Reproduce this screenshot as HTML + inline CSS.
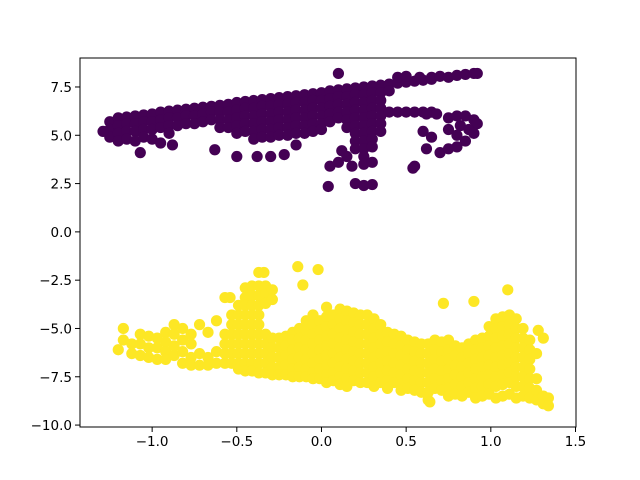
<!DOCTYPE html>
<html><head><meta charset="utf-8"><style>html,body{margin:0;padding:0;background:#fff}svg{display:block}</style></head>
<body>
<svg id="chart" width="640" height="480" xmlns="http://www.w3.org/2000/svg">
<rect width="640" height="480" fill="#fff"/>
<g id="points"></g>
<g id="axes"></g>
</svg>
<script>
const xTicks = [-1.0, -0.5, 0.0, 0.5, 1.0, 1.5];
const xTickLabels = ["\u22121.0", "\u22120.5", "0.0", "0.5", "1.0", "1.5"];
const yTicks = [7.5, 5.0, 2.5, 0.0, -2.5, -5.0, -7.5, -10.0];
const yTickLabels = ["7.5", "5.0", "2.5", "0.0", "\u22122.5", "\u22125.0", "\u22127.5", "\u221210.0"];
const purpleCols = [
[-1.25,[5.7,5.3,4.9]],[-1.2,[5.9,5.5,5.1,4.7]],[-1.15,[5.95,5.6,5.2,4.8]],[-1.1,[6.0,5.6,5.2,4.7]],
[-1.05,[6.05,5.7,5.3,4.9]],[-1.0,[6.1,5.7,5.3,4.8]],[-0.95,[6.2,5.8,5.4,4.6]],[-0.9,[6.25,5.9,5.5,5.1]],
[-0.85,[6.3,5.9,5.5]],[-0.8,[6.35,6.0,5.6]],[-0.75,[6.4,6.0,5.6]],[-0.7,[6.45,6.1,5.7]],[-0.65,[6.5,6.2,5.8]],
[-0.6,[6.55,6.2,5.8,5.4]],[-0.55,[6.6,6.2,5.8,5.4]],[-0.5,[6.7,6.3,5.9,5.5,5.1]],[-0.45,[6.75,6.4,6.0,5.6,5.2]],
[-0.4,[6.8,6.4,6.0,5.6,5.2,4.8]],[-0.35,[6.85,6.5,6.1,5.7,5.3,4.9]],[-0.3,[6.9,6.5,6.1,5.7,5.3,4.9]],
[-0.25,[6.95,6.6,6.2,5.8,5.4,5.0]],[-0.2,[7.0,6.6,6.2,5.8,5.4,5.0]],[-0.15,[7.05,6.7,6.3,5.9,5.5,5.1]],
[-0.1,[7.1,6.7,6.3,5.9,5.5,5.1]],[-0.05,[7.15,6.8,6.4,6.0,5.6,5.2]],[0,[7.2,6.8,6.4,6.0,5.6,5.3]],
[0.05,[7.3,6.9,6.5,6.1,5.7]],[0.1,[7.35,7.0,6.6,6.2,5.9]],[0.15,[7.4,7.0,6.6,6.2,5.8,5.4]],
[0.2,[7.45,7.1,6.7,6.3,5.9,5.5,5.1,4.7,4.3]],[0.25,[7.5,7.1,6.7,6.3,5.9,5.5,5.1,4.7,4.3,3.9]],
[0.3,[7.55,7.2,6.8,6.4,6.0,5.6,5.2,4.8,4.4]],[0.35,[7.6,7.2,6.8,6.4,6.0,5.6,5.2]],
[0.4,[7.65,7.3,6.2]],[0.45,[7.7,6.2]],[0.5,[7.75,6.2]],[0.55,[7.8,6.2]],[0.6,[7.85,6.2]],[0.65,[7.9,6.2]]
];
const purpleExtraX = [0.1,0.45,0.5,0.58,0.65,0.7,0.75,0.8,0.85,0.9,0.92,0.62,0.68,0.75,0.8,0.85,0.9,0.92,0.6,0.65,0.75,0.8,0.82,0.87,0.9,0.85,0.62,0.7,0.75,0.8,0.55,-1.29,-1.07,-0.88,-0.63,-0.5,-0.38,-0.3,-0.22,-0.15,0.05,0.1,0.15,0.12,0.18,0.25,0.3,0.04,0.2,0.25,0.3,0.54];
const purpleExtraY = [8.2,8.0,8.05,8.0,8.0,8.05,8.0,8.1,8.15,8.2,8.2,6.1,6.1,5.9,6.0,6.0,5.8,5.6,5.2,4.9,5.3,5.0,5.5,5.3,5.1,4.7,4.3,4.1,4.3,4.4,3.4,5.2,4.1,4.5,4.25,3.9,3.9,3.9,4.0,4.5,3.4,3.6,3.9,4.2,3.4,3.5,3.6,2.35,2.5,2.4,2.45,3.3];
const yellowCols = [
[-1.2,[-6.1]],[-1.17,[-5.0,-5.6]],[-1.12,[-5.8,-6.3]],[-1.07,[-5.3,-5.8,-6.4]],[-1.02,[-5.4,-6.0,-6.5]],
[-0.97,[-5.5,-6.0,-6.6]],[-0.92,[-5.2,-5.7,-6.2,-6.6]],[-0.87,[-4.8,-5.3,-5.9,-6.4]],[-0.82,[-5.0,-5.6,-6.2,-6.8]],
[-0.77,[-5.3,-5.8,-6.5,-6.9]],[-0.72,[-4.8,-6.3,-6.9]],[-0.67,[-5.2,-6.5,-6.9]],[-0.62,[-4.6,-6.2,-6.8]],
[-0.57,[-3.4,-5.3,-5.8,-6.3,-6.8]],[-0.53,[-4.3,-4.8,-5.3,-5.8,-6.3,-6.8]],
[-0.49,[-3.8,-4.3,-4.8,-5.3,-5.8,-6.3,-6.8,-7.1]],[-0.45,[-2.9,-3.4,-3.8,-4.3,-4.8,-5.3,-5.8,-6.3,-6.8,-7.2]],
[-0.41,[-2.8,-3.3,-3.8,-4.3,-4.8,-5.3,-5.8,-6.3,-6.8,-7.2]],[-0.37,[-2.1,-2.8,-3.3,-3.8,-4.3,-4.8,-5.3,-5.8,-6.3,-6.8,-7.3]],
[-0.33,[-2.8,-3.2,-3.7,-5.3,-5.8,-6.3,-6.8,-7.3]],[-0.29,[-3.0,-3.5,-5.5,-6.0,-6.5,-7.0,-7.4]],
[-0.25,[-5.5,-6.0,-6.5,-7.0,-7.4]],[-0.21,[-5.4,-5.9,-6.4,-6.9,-7.4]],[-0.17,[-5.2,-5.6,-6.1,-6.6,-7.1,-7.5]],
[-0.13,[-5.0,-5.5,-6.0,-6.5,-7.0,-7.5]],[-0.09,[-4.6,-5.1,-5.6,-6.1,-6.6,-7.1,-7.5]],
[-0.05,[-4.3,-4.8,-5.3,-5.8,-6.3,-6.8,-7.3,-7.6]],[-0.01,[-4.6,-5.1,-5.6,-6.1,-6.6,-7.1,-7.6]],
[0.03,[-3.9,-4.4,-4.9,-5.4,-5.9,-6.4,-6.9,-7.4,-7.8]],[0.07,[-4.3,-4.8,-5.3,-5.8,-6.3,-6.8,-7.3,-7.7]],
[0.11,[-4.0,-4.5,-5.0,-5.5,-6.0,-6.5,-7.0,-7.5,-7.9]],[0.15,[-4.1,-4.6,-5.1,-5.6,-6.1,-6.6,-7.1,-7.6,-8.0]],
[0.19,[-4.2,-4.7,-5.2,-5.7,-6.2,-6.7,-7.2,-7.7]],[0.23,[-4.3,-4.8,-5.3,-5.8,-6.3,-6.8,-7.3,-7.8]],
[0.27,[-4.3,-4.8,-5.3,-5.8,-6.3,-6.8,-7.3,-7.8]],[0.31,[-4.5,-5.0,-5.5,-6.0,-6.5,-7.0,-7.5,-8.0]],
[0.35,[-4.8,-5.3,-5.8,-6.3,-6.8,-7.3,-7.8]],[0.39,[-5.2,-5.7,-6.2,-6.7,-7.2,-7.7,-8.1]],
[0.43,[-5.3,-5.8,-6.3,-6.8,-7.3,-7.8]],[0.47,[-5.4,-5.9,-6.4,-6.9,-7.4,-7.9,-8.2]],
[0.51,[-5.6,-6.1,-6.6,-7.1,-7.6,-8.1]],[0.55,[-5.7,-6.2,-6.7,-7.2,-7.7,-8.2]],
[0.59,[-5.8,-6.3,-6.8,-7.3,-7.8,-8.3]],[0.63,[-5.8,-6.3,-6.8,-7.3,-7.8,-8.3,-8.7]],
[0.67,[-5.6,-6.1,-6.6,-7.1,-7.6,-8.1]],[0.71,[-5.7,-6.2,-6.7,-7.2,-7.7,-8.2]],
[0.75,[-5.6,-6.1,-6.6,-7.1,-7.6,-8.1,-8.5]],[0.79,[-5.9,-6.4,-6.9,-7.4,-7.9,-8.4]],
[0.83,[-6.0,-6.5,-7.0,-7.5,-8.0,-8.5]],[0.87,[-5.8,-6.3,-6.8,-7.3,-7.8,-8.3]],
[0.91,[-5.6,-6.1,-6.6,-7.1,-7.6,-8.1,-8.6]],[0.95,[-5.5,-6.0,-6.5,-7.0,-7.5,-8.0,-8.5]],
[0.99,[-4.9,-5.4,-5.9,-6.4,-6.9,-7.4,-7.9,-8.4]],[1.03,[-4.5,-5.0,-5.5,-6.0,-6.5,-7.0,-7.5,-8.0,-8.6]],
[1.07,[-4.4,-4.9,-5.4,-5.9,-6.4,-6.9,-7.4,-7.9,-8.5]],[1.11,[-4.3,-4.8,-5.3,-5.8,-6.3,-6.8,-7.3,-7.8,-8.4]],
[1.15,[-4.5,-5.0,-5.5,-6.0,-6.5,-7.0,-7.5,-8.0,-8.6]],[1.19,[-5.0,-5.5,-6.0,-6.5,-7.0,-7.5,-8.0,-8.5]],
[1.23,[-5.6,-6.1,-6.6,-7.1,-7.6,-8.1,-8.6]],[1.27,[-6.3,-7.6,-8.2,-8.7]],[1.31,[-8.5,-8.9]],[1.34,[-8.6,-9.0]]
];
const yellowExtraX = [-0.14,-0.02,-0.34,-0.11,-0.54,0.72,0.9,1.1,0.64,1.31,1.28];
const yellowExtraY = [-1.8,-1.95,-2.1,-2.75,-3.4,-3.7,-3.6,-3.0,-8.8,-5.5,-5.1];

const X0=80, X1=576, Y0=58, Y1=427;
const xMin=-1.426, xMax=1.503, yMin=-10.1, yMax=9.0;
function sx(v){return X0+(v-xMin)/(xMax-xMin)*(X1-X0);}
function sy(v){return Y1-(v-yMin)/(yMax-yMin)*(Y1-Y0);}
const NS="http://www.w3.org/2000/svg";
const pts=document.getElementById('points');
const ax=document.getElementById('axes');
function dot(x,y,color,name){
  const c=document.createElementNS(NS,'circle');
  c.setAttribute('cx',sx(x).toFixed(2));
  c.setAttribute('cy',sy(y).toFixed(2));
  c.setAttribute('r','5.6');
  c.setAttribute('fill',color);
  
  
  pts.appendChild(c);
}
purpleCols.forEach(function(col){col[1].forEach(function(y){dot(col[0],y,'#440154','purple-point');});});
purpleExtraX.forEach(function(x,i){dot(x,purpleExtraY[i],'#440154','purple-point');});
yellowCols.forEach(function(col){col[1].forEach(function(y){dot(col[0],y,'#fde725','yellow-point');});});
yellowExtraX.forEach(function(x,i){dot(x,yellowExtraY[i],'#fde725','yellow-point');});

const frame=document.createElementNS(NS,'rect');
frame.setAttribute('x',X0);frame.setAttribute('y',Y0);
frame.setAttribute('width',X1-X0);frame.setAttribute('height',Y1-Y0);
frame.setAttribute('fill','none');frame.setAttribute('stroke','#000');frame.setAttribute('stroke-width','1');


ax.appendChild(frame);
function line(x1,y1,x2,y2,name){
  const l=document.createElementNS(NS,'line');
  l.setAttribute('x1',x1);l.setAttribute('y1',y1);l.setAttribute('x2',x2);l.setAttribute('y2',y2);
  l.setAttribute('stroke','#000');l.setAttribute('stroke-width','1');
  
  
  ax.appendChild(l);
}
function text(x,y,s,anchor,name){
  const t=document.createElementNS(NS,'text');
  t.setAttribute('x',x);t.setAttribute('y',y);t.setAttribute('text-anchor',anchor);
  t.setAttribute('font-family','DejaVu Sans, Liberation Sans, sans-serif');
  t.setAttribute('font-size','13.5');t.setAttribute('fill','#000');
  t.textContent=s;
  
  
  ax.appendChild(t);
}
xTicks.forEach(function(v,i){
  const x=sx(v);
  line(x,Y1,x,Y1+5,'x-tick');
  text(x,Y1+19,xTickLabels[i],'middle','x-tick-label');
});
yTicks.forEach(function(v,i){
  const y=sy(v);
  line(X0-5,y,X0,y,'y-tick');
  text(X0-8,y+5,yTickLabels[i],'end','y-tick-label');
});
</script>
</body></html>
